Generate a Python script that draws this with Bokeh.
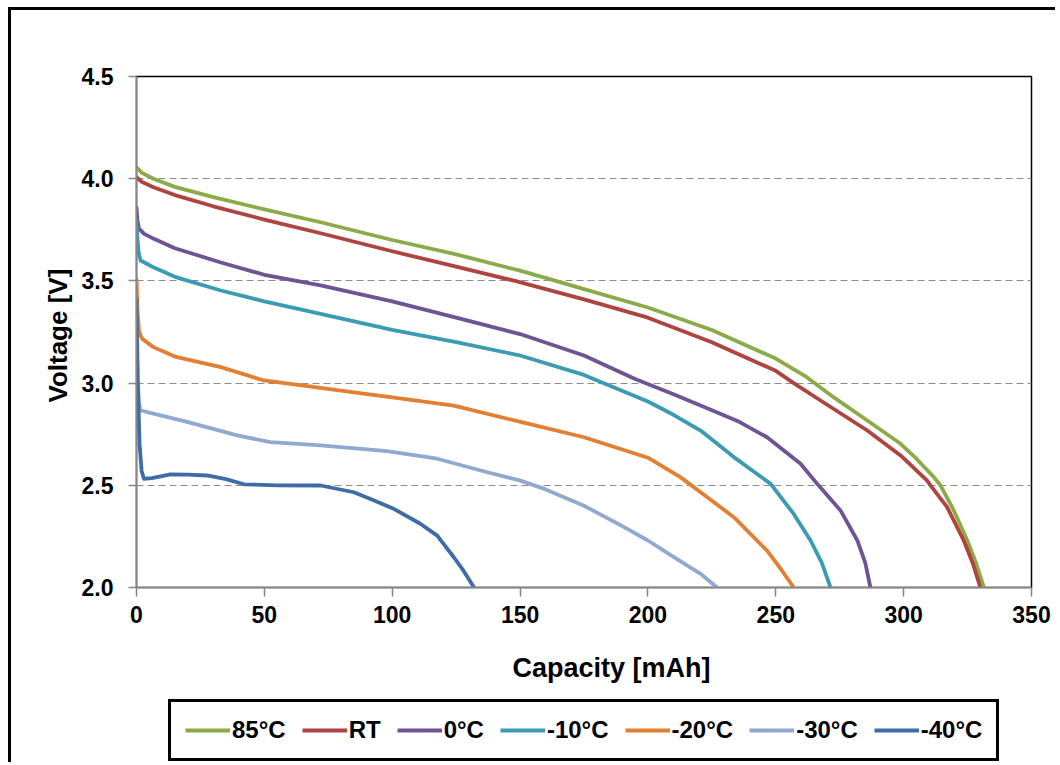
from bokeh.plotting import figure
from bokeh.layouts import column
from bokeh.models import Legend, LegendItem, FixedTicker, Range1d, Title, CustomJSTickFormatter
from bokeh.embed import file_html
from bokeh.resources import INLINE

# ---------------- data ----------------
series_names = ["85°C", "RT", "0°C", "-10°C", "-20°C", "-30°C", "-40°C"]
series_colors = ["#8AAB47", "#AE4340", "#6F5394", "#3A9BB2", "#E27F32", "#8FA9D1", "#3F6CA6"]

cap_85 = [0, 2, 6.6, 15, 30, 50, 72, 100, 125, 150, 164, 175, 200, 225, 250, 262, 272.7, 285.8, 298.8, 305, 311.8, 314.4, 319.6, 324.9, 328, 331.4]
v_85 = [4.056, 4.03, 4.00, 3.96, 3.91, 3.85, 3.787, 3.70, 3.63, 3.55, 3.50, 3.46, 3.37, 3.26, 3.12, 3.03, 2.93, 2.817, 2.703, 2.63, 2.54, 2.50, 2.377, 2.23, 2.13, 2.0]

cap_rt = [0, 2, 6.6, 15, 30, 50, 72, 100, 125, 148, 175, 200, 225, 250, 257, 267.5, 285.8, 298.8, 309.2, 310.5, 317, 323.5, 327, 330]
v_rt = [4.007, 3.985, 3.958, 3.92, 3.865, 3.80, 3.733, 3.645, 3.57, 3.50, 3.41, 3.32, 3.20, 3.06, 3.0, 2.915, 2.768, 2.646, 2.523, 2.50, 2.393, 2.23, 2.12, 2.0]

cap_0 = [0, 0.3, 1, 3, 6.6, 15, 33, 50, 72, 100, 125, 150, 175, 195, 210, 220.6, 235, 246.6, 259.7, 266.2, 275.3, 281.9, 285, 287]
v_0 = [3.86, 3.80, 3.756, 3.73, 3.707, 3.66, 3.59, 3.53, 3.478, 3.40, 3.32, 3.24, 3.135, 3.02, 2.945, 2.89, 2.815, 2.735, 2.605, 2.507, 2.377, 2.23, 2.12, 2.0]

cap_m10 = [0, 0.3, 0.8, 1.6, 6.6, 15, 33, 50, 72, 100, 125, 150, 175, 200, 210, 220.6, 233.6, 248, 257, 263.6, 268, 271.4]
v_m10 = [3.795, 3.72, 3.64, 3.60, 3.567, 3.52, 3.453, 3.40, 3.339, 3.26, 3.20, 3.135, 3.04, 2.91, 2.845, 2.768, 2.638, 2.507, 2.36, 2.23, 2.12, 2.0]

cap_m20 = [0, 0.4, 1, 2.2, 6.6, 15, 33, 49.8, 72, 85, 100, 124.1, 150.2, 175, 200, 212.7, 220.6, 233.6, 246.6, 252, 257]
v_m20 = [3.51, 3.35, 3.25, 3.217, 3.176, 3.13, 3.078, 3.013, 2.977, 2.955, 2.93, 2.89, 2.81, 2.735, 2.635, 2.54, 2.466, 2.344, 2.18, 2.09, 2.0]

cap_m30 = [0, 0.5, 1, 1.6, 6.6, 19.8, 39.4, 52.4, 72, 98, 117.6, 137.2, 150.2, 160, 175, 190, 200, 210, 220.6, 227]
v_m30 = [3.25, 3.0, 2.9, 2.866, 2.851, 2.81, 2.744, 2.711, 2.695, 2.667, 2.63, 2.564, 2.523, 2.48, 2.40, 2.30, 2.23, 2.15, 2.067, 2.0]

cap_m40 = [0, 0.5, 1.2, 2, 2.9, 6, 13.3, 20, 27.6, 35, 42, 55, 72, 85, 92, 100.6, 111, 117.6, 124.1, 128, 132]
v_m40 = [3.41, 3.0, 2.7, 2.57, 2.532, 2.535, 2.553, 2.552, 2.548, 2.53, 2.505, 2.50, 2.499, 2.466, 2.43, 2.385, 2.312, 2.254, 2.148, 2.08, 2.0]

x_ticks = [0, 50, 100, 150, 200, 250, 300, 350]
y_ticks = [2.0, 2.5, 3.0, 3.5, 4.0, 4.5]
y_grid = [2.5, 3.0, 3.5, 4.0]
x_title = "Capacity  [mAh]"
y_title = "Voltage  [V]"

caps = [cap_85, cap_rt, cap_0, cap_m10, cap_m20, cap_m30, cap_m40]
volts = [v_85, v_rt, v_0, v_m10, v_m20, v_m30, v_m40]

FONT = "Liberation Sans"
AXIS_GRAY = "#878787"

# ---------------- main chart ----------------
p = figure(width=1044, height=628, output_backend="svg", toolbar_location=None,
           x_range=Range1d(0, 350), y_range=Range1d(2.0, 4.5),
           min_border_left=125, min_border_right=24, min_border_top=66,
           min_border_bottom=51, title=None)

p.outline_line_color = "black"
p.outline_line_width = 1.5

for ax in (p.xaxis[0], p.yaxis[0]):
    ax.axis_line_color = AXIS_GRAY
    ax.axis_line_width = 1.5
    ax.major_tick_line_color = AXIS_GRAY
    ax.major_tick_line_width = 1.5
    ax.major_tick_in = 0
    ax.minor_tick_line_color = None
    ax.major_label_text_font = FONT
    ax.major_label_text_font_style = "bold"
    ax.major_label_text_font_size = "23px"
    ax.major_label_text_color = "black"
    ax.axis_label_text_font = FONT
    ax.axis_label_text_font_style = "bold"
    ax.axis_label_text_font_size = "26px"
    ax.axis_label_text_color = "black"

p.xaxis.ticker = FixedTicker(ticks=x_ticks)
p.yaxis.ticker = FixedTicker(ticks=y_ticks)
p.xaxis.major_tick_out = 9
p.yaxis.major_tick_out = 8
p.xaxis.major_label_standoff = 9
p.yaxis.major_label_standoff = 15
p.yaxis.formatter = CustomJSTickFormatter(code="return tick.toFixed(1);")
p.yaxis.axis_label = y_title
p.yaxis.axis_label_standoff = 6

p.xgrid.grid_line_color = None
p.ygrid.ticker = FixedTicker(ticks=y_grid)
p.ygrid.grid_line_color = "#8C8C8C"
p.ygrid.grid_line_dash = "7 4"
p.ygrid.grid_line_width = 1

for name, col, xs, ys in zip(series_names, series_colors, caps, volts):
    p.line(xs, ys, line_color=col, line_width=3.8, line_join="round", line_cap="round")

# ---------------- strip below: x title + legend ----------------
# its y range lies far above the data, so the proxy lines that feed the legend stay out of view
lg = figure(width=1044, height=124, output_backend="svg", toolbar_location=None,
            x_range=Range1d(0, 350), y_range=Range1d(100, 101),
            x_axis_type=None, y_axis_type=None, title=None,
            min_border_left=125, min_border_right=24, min_border_top=0, min_border_bottom=0)
lg.outline_line_color = None
lg.xgrid.grid_line_color = None
lg.ygrid.grid_line_color = None

xt = Title(text=x_title, align="left", offset=376, text_font=FONT, text_color="black",
           text_font_style="bold", text_font_size="27px", standoff=24)
lg.add_layout(xt, "above")

items = []
for name, col, xs, ys in zip(series_names, series_colors, caps, volts):
    r = lg.line(xs, ys, line_color=col, line_width=3.8)
    items.append(LegendItem(label=name, renderers=[r]))

legend = Legend(items=items, location=(32, 1), orientation="horizontal")
legend.label_text_font = FONT
legend.label_text_font_style = "bold"
legend.label_text_font_size = "24px"
legend.label_text_color = "black"
legend.glyph_width = 45
legend.label_standoff = 2
legend.spacing = 16
legend.padding = 14
legend.margin = 0
legend.border_line_color = "black"
legend.border_line_alpha = 1
legend.border_line_width = 3
legend.background_fill_color = "white"
legend.background_fill_alpha = 1
lg.add_layout(legend)

page = column(p, lg, spacing=0,
              styles={"margin-left": "8px", "margin-top": "7px",
                      "border-left": "3px solid black", "border-top": "3px solid black"})

open("out.html", "w").write(file_html(page, INLINE))
